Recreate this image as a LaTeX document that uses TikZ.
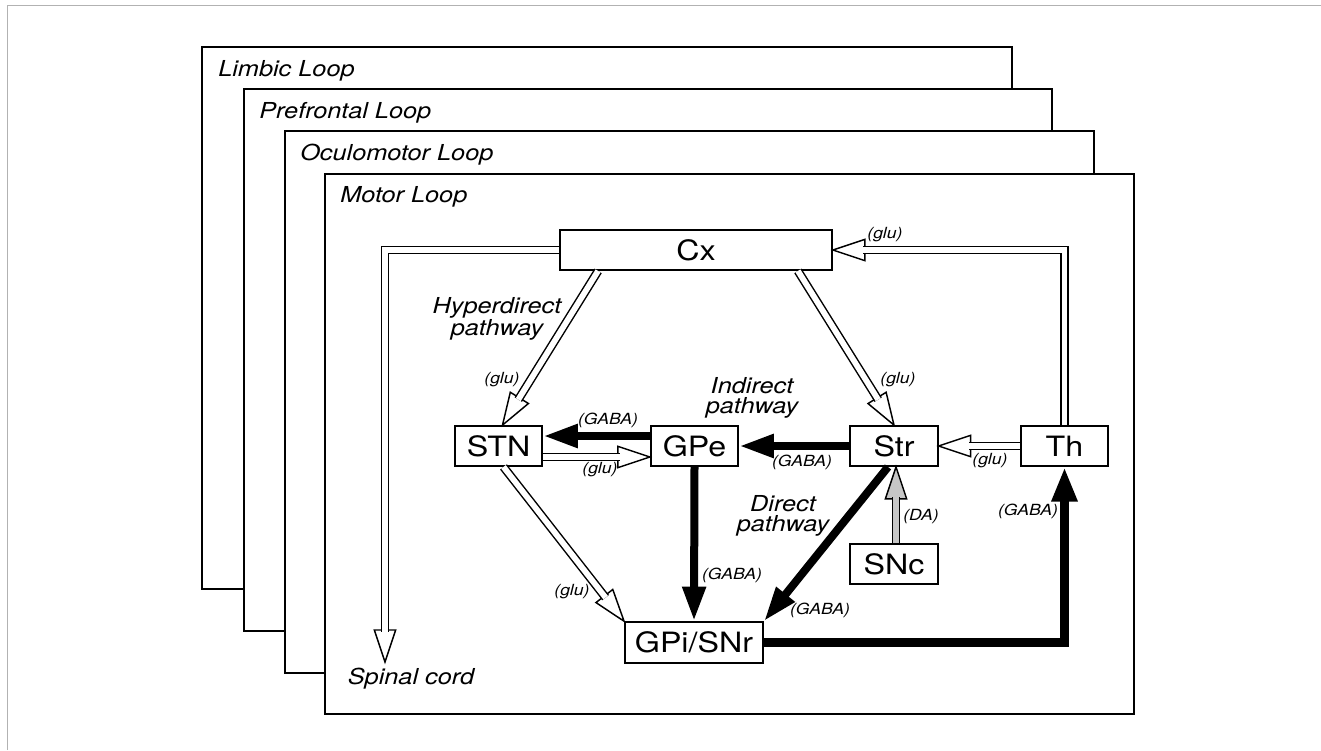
\documentclass[tikz,border=0pt]{standalone}
\usepackage{fontspec}
\setmainfont{TeX Gyre Heros}[FakeStretch=1.15]
\usetikzlibrary{calc,arrows.meta}
\newcommand\nodefont{\fontsize{21}{22}\selectfont}
\newcommand\labfont{\fontsize{16.5}{15}\selectfont\itshape}
\newcommand\smallfont{\fontsize{11.5}{12}\selectfont\itshape}
\newcommand\hl{24pt}
\newcommand\hlb{22.5pt}
\newcommand\hw{8pt}
% #1 fill colour, #2 shaft path up to last corner, #3 last corner, #4 tip
\newcommand\harrow[4][white]{%
  \coordinate (hb) at ($(#4)!\hl!(#3)$);
  \coordinate (hbb) at ($(#4)!\hlb!(#3)$);
  \filldraw[fill=#1, line width=1.1pt, line join=miter] (#4) -- ($(hb)!\hw!90:(#4)$) -- ($(hb)!\hw!-90:(#4)$) -- cycle;
  \draw[line width=1.1pt, double=#1, double distance=4.3pt, line join=miter] #2 -- (hbb);
}
\tikzset{
  frame/.style={draw=black, line width=1.6pt, fill=white},
  looplab/.style={font=\labfont, anchor=base west, inner sep=0pt},
  pathlab/.style={font=\labfont, align=center, inner sep=0pt},
  sl/.style={font=\smallfont, inner sep=0pt},
  box/.style={draw, line width=1.4pt, fill=white, minimum width=65.5pt, minimum height=30pt, inner sep=0pt, font=\nodefont},
  blk/.style={line width=6pt, -{Triangle[length=26pt,width=16.5pt]}}
}
\begin{document}
\begin{tikzpicture}[x=0.75pt, y=-0.75pt]
\useasboundingbox (0,0) rectangle (1321,750);
% outer frame
\draw[gray!60, line width=0.7pt] (7,750) -- (7,5) -- (1321,5);
% loop frames
\draw[frame] (202,47) rectangle (1012,589);
\node[looplab] (lL) at (218,76) {Limbic Loop};
\draw[frame] (244,89) rectangle (1052,631);
\node[looplab] (lP) at (259,118) {Prefrontal Loop};
\draw[frame] (285,131) rectangle (1094,673);
\node[looplab] (lO) at (300,160) {Oculomotor Loop};
\draw[frame] (325,174) rectangle (1134,714);
\node[looplab] (lM) at (340,202) {Motor Loop};
% nodes
\node[box, minimum width=204pt] (Cx) at (696,250) {Cx};
\node[box] (STN) at (498.5,446) {STN};
\node[box] (GPe) at (694.5,446) {GPe};
\node[box] (Str) at (894,446) {Str};
\node[box] (Th) at (1064.5,446) {Th};
\node[box] (SNc) at (894,564) {SNc};
\node[box, minimum width=103.5pt, minimum height=30.5pt] (GPi) at (694,642.5) {GPi/SNr};
% hollow (glutamatergic) arrows
\coordinate (sc) at (385,662);
\coordinate (scc) at (sc |- Cx.west);
\harrow{(Cx.west) -- (scc)}{scc}{sc}
\coordinate (thc) at (Th.north |- Cx.east);
\harrow{(Th.north) -- (thc)}{thc}{Cx.east}
\coordinate (c1) at ($(Cx.south west)+(39,0)$);
\coordinate (t1) at ($(STN.north)+(4,0)$);
\harrow{(c1)}{c1}{t1}
\coordinate (c2) at ($(Cx.south east)+(-35,0)$);
\harrow{(c2)}{c2}{Str.north}
\coordinate (c3) at ($(STN.south)+(5,0)$);
\harrow{(c3)}{c3}{GPi.north west}
\coordinate (c4) at ($(STN.east)+(0,11)$);
\coordinate (t4) at ($(GPe.west)+(0,11)$);
\harrow{(c4)}{c4}{t4}
\harrow{(Th.west)}{Th.west}{Str.east}
\coordinate (c5) at ($(SNc.north)+(2,0)$);
\coordinate (t5) at ($(Str.south)+(2,0)$);
\harrow[gray!45]{(c5)}{c5}{t5}
% black (GABA) arrows
\draw[blk] ($(GPe.west)+(0,-10)$) -- ($(STN.east)+(0,-10)$);
\draw[blk] (Str.west) -- (GPe.east);
\draw[blk] (GPe.south) -- (GPi.north);
\draw[blk] ($(Str.south)+(-6,0)$) -- (GPi.north east);
\draw[blk, line width=6.75pt, -{Triangle[length=26pt,width=18pt]}] (GPi.east) -| (Th.south);
% labels
\node[pathlab] (hyp) at (497,319) {Hyperdirect\\pathway};
\node[pathlab] (ind) at (752,398) {Indirect\\pathway};
\node[pathlab] (dir) at (783,516) {Direct\\pathway};
\node[sl] at (885,235) {(glu)};
\node[sl] at (502,380) {(glu)};
\node[sl] at (898,380) {(glu)};
\node[sl] at (608,420) {(GABA)};
\node[sl] at (600,470) {(glu)};
\node[sl] at (802,462) {(GABA)};
\node[sl] at (990,461) {(glu)};
\node[sl] at (921,517) {(DA)};
\node[sl] at (1028,511) {(GABA)};
\node[sl] at (732,575) {(GABA)};
\node[sl] at (820,610) {(GABA)};
\node[sl] at (572,592) {(glu)};
\node[font=\labfont, inner sep=0pt] (spinal) at (411,679) {Spinal cord};
\end{tikzpicture}
\end{document}
